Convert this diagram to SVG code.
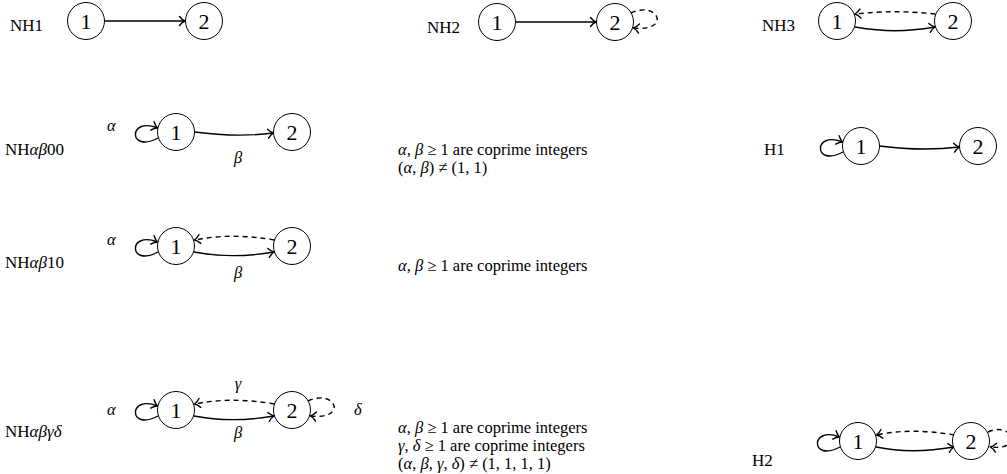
<svg xmlns="http://www.w3.org/2000/svg" width="1007" height="474" viewBox="0 0 1007 474">
<style>
text{font-family:"Liberation Serif","DejaVu Serif",serif;fill:#000}
.lbl{font-size:17px}
.num{font-size:22px;text-anchor:middle}
.m{font-size:16.5px}
.i{font-style:italic}
.mid{text-anchor:middle}
circle{fill:#fff;stroke:#000;stroke-width:1}
.e{fill:none;stroke:#000;stroke-width:1.4;marker-end:url(#ah)}
.d{stroke-dasharray:5 4}
</style>
<defs>
<marker id="ah" markerUnits="userSpaceOnUse" viewBox="-7 -6 9 12" markerWidth="9" markerHeight="12" refX="0" refY="0" orient="auto">
<path d="M-5.5,-4.5 C-3.5,-2 -1.5,-0.6 0,0 C-1.5,0.6 -3.5,2 -5.5,4.5" fill="none" stroke="#000" stroke-width="1.4" stroke-linecap="round"/>
</marker>
</defs>

<g id="connectors">
<path class="e" d="M104.5,21 L185,21"/>
<path class="e" d="M515.5,22 L596,22"/>
<path class="e d" d="M631,13 C658,0 672,32 633.5,28"/>
<path class="e d" d="M935.5,14 C905,11 885,11 855,14"/>
<path class="e" d="M855,27 C885,32 905,32 935,27"/>
<path class="e" d="M158,138 C128,154 128,116 157.5,128"/>
<path class="e" d="M194.5,132 C225,136 250,136 273.5,133"/>
<path class="e" d="M843,152 C813,168 813,130 842.5,142"/>
<path class="e" d="M879.5,146 C910,150 935,150 959.5,147"/>
<path class="e" d="M158,252 C128,268 128,230 157.5,242"/>
<path class="e d" d="M274.5,240 C245,235 220,235 194.5,240"/>
<path class="e" d="M194,252 C220,257 245,257 274,252"/>
<path class="e" d="M158,416 C128,432 128,394 157.5,406"/>
<path class="e d" d="M274.5,404 C245,399 220,399 194.5,404"/>
<path class="e" d="M194,416 C220,421 245,421 274,416"/>
<path class="e d" d="M308,401 C335,388 349,420 310.5,416"/>
<path class="e" d="M840,447 C810,463 810,425 839.5,437"/>
<path class="e d" d="M954.5,435 C925,430 900,430 876.5,435"/>
<path class="e" d="M876,447 C900,452 925,452 954,447"/>
<path class="e d" d="M988,432 C1012,421 1024,451 990.5,447"/>
</g>

<g id="NH1">
<text class="lbl" x="10" y="31">NH1</text>
<circle cx="86" cy="21" r="18.5"/><text class="num" x="86" y="28.5">1</text>
<circle cx="204" cy="21" r="18.5"/><text class="num" x="204" y="28.5">2</text>
</g>
<g id="NH2">
<text class="lbl" x="427" y="33">NH2</text>
<circle cx="497" cy="22" r="18.5"/><text class="num" x="497" y="29.5">1</text>
<circle cx="615" cy="22" r="18.5"/><text class="num" x="615" y="29.5">2</text>
</g>
<g id="NH3">
<text class="lbl" x="762" y="31">NH3</text>
<circle cx="837" cy="21" r="18.5"/><text class="num" x="837" y="28.5">1</text>
<circle cx="953" cy="21" r="18.5"/><text class="num" x="953" y="28.5">2</text>
</g>

<g id="NHab00">
<text class="lbl" x="5" y="155">NH<tspan class="i">αβ</tspan>00</text>
<text class="m i" x="107" y="131">α</text>
<circle cx="176" cy="132" r="18.5"/><text class="num" x="176" y="139.5">1</text>
<circle cx="292" cy="132" r="18.5"/><text class="num" x="292" y="139.5">2</text>
<text class="m i mid" x="238" y="163">β</text>
</g>
<g id="cond00">
<text class="m" x="398" y="155"><tspan class="i">α</tspan>, <tspan class="i">β</tspan> ≥ 1 are coprime integers</text>
<text class="m" x="398" y="173">(<tspan class="i">α</tspan>, <tspan class="i">β</tspan>) ≠ (1, 1)</text>
</g>
<g id="H1">
<text class="lbl" x="764" y="155">H1</text>
<circle cx="861" cy="146" r="18.5"/><text class="num" x="861" y="153.5">1</text>
<circle cx="978" cy="146" r="18.5"/><text class="num" x="978" y="153.5">2</text>
</g>

<g id="NHab10">
<text class="lbl" x="5" y="268">NH<tspan class="i">αβ</tspan>10</text>
<text class="m i" x="107" y="245">α</text>
<circle cx="176" cy="246" r="18.5"/><text class="num" x="176" y="253.5">1</text>
<circle cx="292" cy="246" r="18.5"/><text class="num" x="292" y="253.5">2</text>
<text class="m i mid" x="238" y="278">β</text>
</g>
<g id="cond10">
<text class="m" x="398" y="271"><tspan class="i">α</tspan>, <tspan class="i">β</tspan> ≥ 1 are coprime integers</text>
</g>

<g id="NHabgd">
<text class="lbl" x="5" y="437">NH<tspan class="i">αβγδ</tspan></text>
<text class="m i" x="107" y="415">α</text>
<circle cx="176" cy="410" r="18.5"/><text class="num" x="176" y="417.5">1</text>
<circle cx="292" cy="410" r="18.5"/><text class="num" x="292" y="417.5">2</text>
<text class="m i mid" x="238" y="389">γ</text>
<text class="m i mid" x="238" y="438">β</text>
<text class="m i" x="354" y="415">δ</text>
</g>
<g id="condgd">
<text class="m" x="398" y="433"><tspan class="i">α</tspan>, <tspan class="i">β</tspan> ≥ 1 are coprime integers</text>
<text class="m" x="398" y="451"><tspan class="i">γ</tspan>, <tspan class="i">δ</tspan> ≥ 1 are coprime integers</text>
<text class="m" x="398" y="469">(<tspan class="i">α</tspan>, <tspan class="i">β</tspan>, <tspan class="i">γ</tspan>, <tspan class="i">δ</tspan>) ≠ (1, 1, 1, 1)</text>
</g>
<g id="H2">
<text class="lbl" x="752" y="466">H2</text>
<circle cx="858" cy="441" r="18.5"/><text class="num" x="858" y="448.5">1</text>
<circle cx="971" cy="441" r="18.5"/><text class="num" x="971" y="448.5">2</text>
</g>
</svg>
